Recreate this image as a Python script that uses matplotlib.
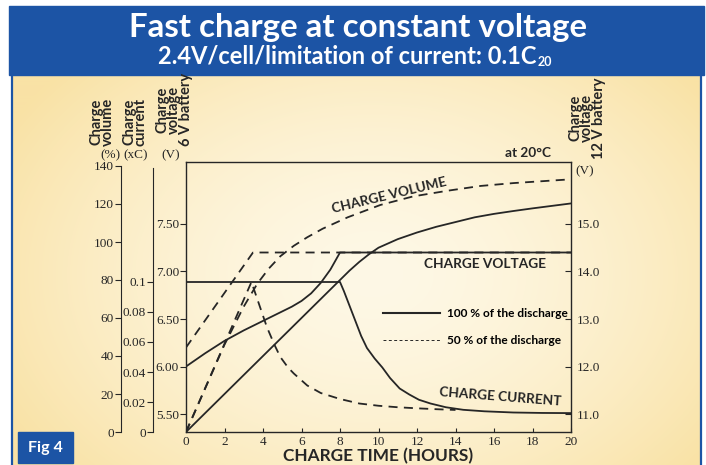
import numpy as np
import matplotlib
matplotlib.use("Agg")
import matplotlib.pyplot as plt
from matplotlib.lines import Line2D
from matplotlib.patches import Rectangle

# charge time (hours) and values
t_volt_full = [0, 1, 2, 3, 4, 5, 5.5, 6, 6.5, 7, 7.5, 8, 20]
v_volt_full = [6.00, 6.14, 6.27, 6.38, 6.48, 6.58, 6.63, 6.69, 6.77, 6.88, 7.02, 7.20, 7.20]
t_volt_half = [0, 3.48, 20]
v_volt_half = [6.20, 7.20, 7.20]

t_cur_full = [0, 8, 8.2, 8.5, 8.8, 9.1, 9.4, 9.8, 10.2, 10.6, 11.1, 11.6, 12.1, 12.7,
              13.5, 14.4, 15.5, 17, 18.5, 20]
i_cur_full = [0.1, 0.1, 0.094, 0.084, 0.074, 0.064, 0.056, 0.049, 0.043, 0.036, 0.029, 0.025,
              0.0215, 0.019, 0.0165, 0.0148, 0.0138, 0.013, 0.0127, 0.0126]
t_cur_half = [0, 3.4, 3.8, 4.2, 4.6, 4.9, 5.3, 5.6, 6.3, 7.0, 8, 9, 10, 11, 12, 13, 14]
i_cur_half = [0, 0.1, 0.085, 0.07, 0.058, 0.05, 0.043, 0.039, 0.031, 0.026, 0.022, 0.019,
              0.0175, 0.0165, 0.0158, 0.0152, 0.0147]

t_vol_full = [0, 8, 8.5, 9, 9.5, 10, 11, 12, 13, 14, 15, 16, 17, 18, 19, 20]
q_vol_full = [0, 80, 85, 89.5, 93.5, 97, 101.5, 105, 108, 110.5, 113, 114.8, 116.3, 117.7, 119, 120.3]
t_vol_half = [0, 1, 2, 3, 3.7, 4.3, 4.9, 5.6, 6.3, 7.1, 8.4, 10.1, 11.8, 13.6, 15.3, 17, 18.5, 20]
q_vol_half = [0, 23, 46, 66, 78, 86, 92.5, 98, 102.5, 107, 113, 119.5, 124, 127, 129.5, 131, 132, 133]

x_ticks = list(range(0, 21, 2))
vol_ticks = list(range(0, 141, 20))
cur_ticks = [0, 0.02, 0.04, 0.06, 0.08, 0.1]
cur_labels = ["0", "0.02", "0.04", "0.06", "0.08", "0.1"]
v6_ticks = [5.5, 6.0, 6.5, 7.0, 7.5]
v12_ticks = [11.0, 12.0, 13.0, 14.0, 15.0]

W, H = 706, 465
BLUE = "#1c54a5"
INK = "#262626"
SANS = "Lato"
SERIF = "Liberation Serif"

def px(x, y):
    return x / W, 1 - y / H

fig = plt.figure(figsize=(W / 100, H / 100), dpi=100, facecolor="white")

# background: blue title bar + cream gradient panel
bg = fig.add_axes([0, 0, 1, 1])
bg.set_xlim(0, W)
bg.set_ylim(H, 0)
bg.axis("off")
yy, xx = np.mgrid[0:390, 0:688]
r = np.sqrt(((xx - 360) / 420.0) ** 2 + ((yy - 200) / 300.0) ** 2)
r = np.clip(r, 0, 1) ** 1.6
light = np.array([254, 248, 230]) / 255
warm = np.array([249, 226, 165]) / 255
img = light[None, None, :] * (1 - r[..., None]) + warm[None, None, :] * r[..., None]
bg.imshow(img, extent=(12, 700, 465, 75), aspect="auto", zorder=0)
bg.add_patch(Rectangle((9, 6), 695, 69, color=BLUE, zorder=1))
bg.plot([12, 12], [75, 465], color=BLUE, lw=1.6, zorder=1)
bg.plot([700.5, 700.5], [75, 465], color=BLUE, lw=1.6, zorder=1)
bg.add_patch(Rectangle((18, 432), 55, 31, color=BLUE, zorder=2))
bg.text(45.5, 447.5, "Fig 4", color="white", fontsize=11.5, fontweight="bold",
        family=SANS, ha="center", va="center", zorder=3)

fig.text(*px(358, 27), "Fast charge at constant voltage", color="white",
         fontsize=23.8, fontweight="bold", family=SANS, ha="center", va="center")
subtitle = fig.text(*px(158, 63), "2.4V/cell/limitation of current: 0.1C", color="white",
                    fontsize=17, fontweight="bold", family=SANS, ha="left", va="baseline")
fig.canvas.draw()
end = subtitle.get_window_extent(fig.canvas.get_renderer())
fig.text(end.x1 / W + 1 / W, 1 - 66 / H, "20", color="white", fontsize=9,
         fontweight="bold", family=SANS, ha="left", va="baseline")

# main axes = 6 V battery voltage
ax = fig.add_axes([186 / W, 33 / H, 385 / W, 270 / H])
ax.patch.set_alpha(0)
ax.set_xlim(0, 20)
ax.set_ylim(5.5 - 18 / 95, 5.5 + 252 / 95)
for s in ax.spines.values():
    s.set_color(INK)
    s.set_linewidth(1.0)
ax.set_xticks(x_ticks)
ax.set_xticklabels([str(v) for v in x_ticks])
ax.set_yticks(v6_ticks)
ax.set_yticklabels(["%.2f" % v for v in v6_ticks])
ax.tick_params(axis="x", direction="in", length=3, pad=3, colors=INK, labelsize=9.5)
ax.tick_params(axis="y", direction="out", length=4, pad=1, colors=INK, labelsize=9.5)
for lab in ax.get_xticklabels() + ax.get_yticklabels():
    lab.set_family(SERIF)

# 12 V battery voltage on the right
ax12 = ax.twinx()
ax12.set_ylim(2 * (5.5 - 18 / 95), 2 * (5.5 + 252 / 95))
ax12.set_yticks(v12_ticks)
ax12.set_yticklabels(["%.1f" % v for v in v12_ticks])
ax12.tick_params(axis="y", direction="in", length=4, pad=4, colors=INK, labelsize=9.5)
for s in ax12.spines.values():
    s.set_visible(False)
for lab in ax12.get_yticklabels():
    lab.set_family(SERIF)

# charge current (xC)
axc = ax.twinx()
axc.set_ylim(0, 0.18)
for name, s in axc.spines.items():
    s.set_visible(name == "left")
axc.spines["left"].set_position(("axes", -33 / 385))
axc.spines["left"].set_bounds(0, 0.176)
axc.spines["left"].set_color(INK)
axc.yaxis.set_ticks_position("left")
axc.set_yticks(cur_ticks)
axc.set_yticklabels(cur_labels)
axc.tick_params(axis="y", direction="out", length=4, pad=1, colors=INK, labelsize=9.5)
for lab in axc.get_yticklabels():
    lab.set_family(SERIF)

# charge volume (%)
axv = ax.twinx()
axv.set_ylim(0, 270 / 1.9)
for name, s in axv.spines.items():
    s.set_visible(name == "left")
axv.spines["left"].set_position(("axes", -65 / 385))
axv.spines["left"].set_bounds(0, 140)
axv.spines["left"].set_color(INK)
axv.yaxis.set_ticks_position("left")
axv.set_yticks(vol_ticks)
axv.set_yticklabels([str(v) for v in vol_ticks])
axv.tick_params(axis="y", direction="out", length=4, pad=1, colors=INK, labelsize=9.5)
for lab in axv.get_yticklabels():
    lab.set_family(SERIF)

dash = (5, 3.5)
lw = 1.3
ax.plot(t_volt_half, v_volt_half, color=INK, lw=lw, dashes=dash)
ax.plot(t_volt_full, v_volt_full, color=INK, lw=lw)
axc.plot(t_cur_half, i_cur_half, color=INK, lw=lw, dashes=dash)
axc.plot(t_cur_full, i_cur_full, color=INK, lw=lw)
axv.plot(t_vol_half, q_vol_half, color=INK, lw=lw, dashes=dash)
axv.plot(t_vol_full, q_vol_full, color=INK, lw=lw)

# legend
h_full = Line2D([], [], color=INK, lw=1.5)
h_half = Line2D([], [], color=INK, lw=0.7, dashes=(3, 2.5))
leg = axv.legend([h_full, h_half], ["100 % of the discharge", "50 % of the discharge"],
                 loc="center left", bbox_to_anchor=(197 / 385, 105 / 270), frameon=False,
                 handlelength=4.8, handletextpad=0.55, labelspacing=1.35, borderpad=0,
                 borderaxespad=0, prop={"family": SANS, "weight": "bold", "size": 8.6})

# curve labels
lab_kw = dict(color=INK, fontweight="bold", family=SANS, fontsize=9.8, ha="center", va="center")
fig.text(*px(389, 195), "CHARGE VOLUME", rotation=13.5, **lab_kw)
fig.text(*px(485, 264), "CHARGE VOLTAGE", **lab_kw)
fig.text(*px(500, 397), "CHARGE CURRENT", rotation=-4.5, **lab_kw)
fig.text(*px(528, 153), "at 20°C", **lab_kw)
fig.text(*px(378, 456), "CHARGE TIME (HOURS)", color=INK, fontweight="bold", family=SANS,
         fontsize=12.4, ha="center", va="center")

# axis titles
ttl = dict(color=INK, fontweight="bold", family=SANS, fontsize=10.5, rotation=90,
           ha="center", va="bottom", linespacing=0.8)
fig.text(*px(102, 146), "Charge\nvolume", **ttl)
fig.text(*px(135, 146), "Charge\ncurrent", **ttl)
fig.text(*px(174, 146), "Charge\nvoltage\n6 V battery", **ttl)
fig.text(*px(587, 159), "Charge\nvoltage\n12 V battery", **ttl)
unit = dict(color=INK, family=SERIF, fontsize=9.5, ha="center", va="center")
fig.text(*px(110, 155), "(%)", **unit)
fig.text(*px(136, 155), "(xC)", **unit)
fig.text(*px(171, 155), "(V)", **unit)
fig.text(*px(585, 171), "(V)", **unit)

fig.savefig("out.png", dpi=100, facecolor="white")
